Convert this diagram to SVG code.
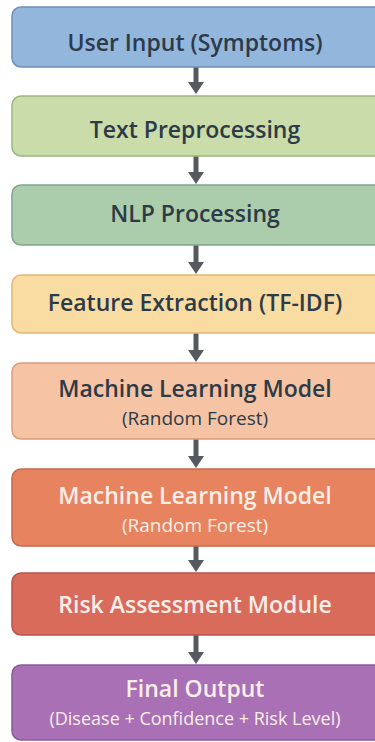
<svg xmlns="http://www.w3.org/2000/svg" width="375" height="742" viewBox="0 0 375 742">
<style>
.box{stroke-width:1.5}
.t{font-family:"Open Sans","Noto Sans","Liberation Sans",sans-serif;font-weight:600;text-anchor:middle;dominant-baseline:central}
.big{font-size:23px}
.sub{font-size:19px;font-weight:400}
.sub2{font-size:18px;font-weight:400}
.dark{fill:#2d3a48}
.light{fill:#fbeee8}
.conn{stroke:#555a60;stroke-width:5;fill:none}
</style>
<defs>
<marker id="ah" viewBox="0 0 12 16" refX="1" refY="8" markerWidth="12" markerHeight="16" markerUnits="userSpaceOnUse" orient="auto">
<path d="M0,0 L12,8 L0,16 Z" fill="#555a60"/>
</marker>
</defs>
<rect width="375" height="742" fill="#ffffff"/>
<g id="connectors">
<line class="conn" x1="196" y1="67" x2="196" y2="83" marker-end="url(#ah)"/>
<line class="conn" x1="196" y1="156" x2="196" y2="173" marker-end="url(#ah)"/>
<line class="conn" x1="196" y1="245" x2="196" y2="263" marker-end="url(#ah)"/>
<line class="conn" x1="196" y1="333" x2="196" y2="351" marker-end="url(#ah)"/>
<line class="conn" x1="196" y1="439" x2="196" y2="457" marker-end="url(#ah)"/>
<line class="conn" x1="196" y1="546" x2="196" y2="561" marker-end="url(#ah)"/>
<line class="conn" x1="196" y1="635" x2="196" y2="653" marker-end="url(#ah)"/>
</g>
<g id="n1"><rect class="box" x="12" y="7" width="372" height="60" rx="9" fill="#93b6dd" stroke="#6f8fb8"/><text class="t big dark" x="195" y="42">User Input (Symptoms)</text></g>
<g id="n2"><rect class="box" x="12" y="96" width="372" height="60" rx="9" fill="#cadcaa" stroke="#9fb57f"/><text class="t big dark" x="195" y="129">Text Preprocessing</text></g>
<g id="n3"><rect class="box" x="12" y="185" width="372" height="60" rx="9" fill="#abcdab" stroke="#7fa68a"/><text class="t big dark" x="195" y="213">NLP Processing</text></g>
<g id="n4"><rect class="box" x="12" y="275" width="372" height="58" rx="9" fill="#f8dca2" stroke="#e0b873"/><text class="t big dark" x="195" y="302">Feature Extraction (TF-IDF)</text></g>
<g id="n5"><rect class="box" x="12" y="363" width="372" height="76" rx="9" fill="#f6c4a4" stroke="#d99c7b"/><text class="t big dark" x="195" y="388">Machine Learning Model</text><text class="t sub dark" x="195" y="418">(Random Forest)</text></g>
<g id="n6"><rect class="box" x="12" y="469" width="372" height="77" rx="9" fill="#e8835f" stroke="#c66a4b"/><text class="t big light" x="195" y="495">Machine Learning Model</text><text class="t sub light" x="195" y="525">(Random Forest)</text></g>
<g id="n7"><rect class="box" x="12" y="573" width="372" height="62" rx="9" fill="#d96b5b" stroke="#b9524a"/><text class="t big light" x="195" y="604">Risk Assessment Module</text></g>
<g id="n8"><rect class="box" x="12" y="665" width="372" height="75" rx="9" fill="#a970b6" stroke="#8a5a9b"/><text class="t big light" x="195" y="688">Final Output</text><text class="t sub2 light" x="195" y="718">(Disease + Confidence + Risk Level)</text></g>
</svg>
